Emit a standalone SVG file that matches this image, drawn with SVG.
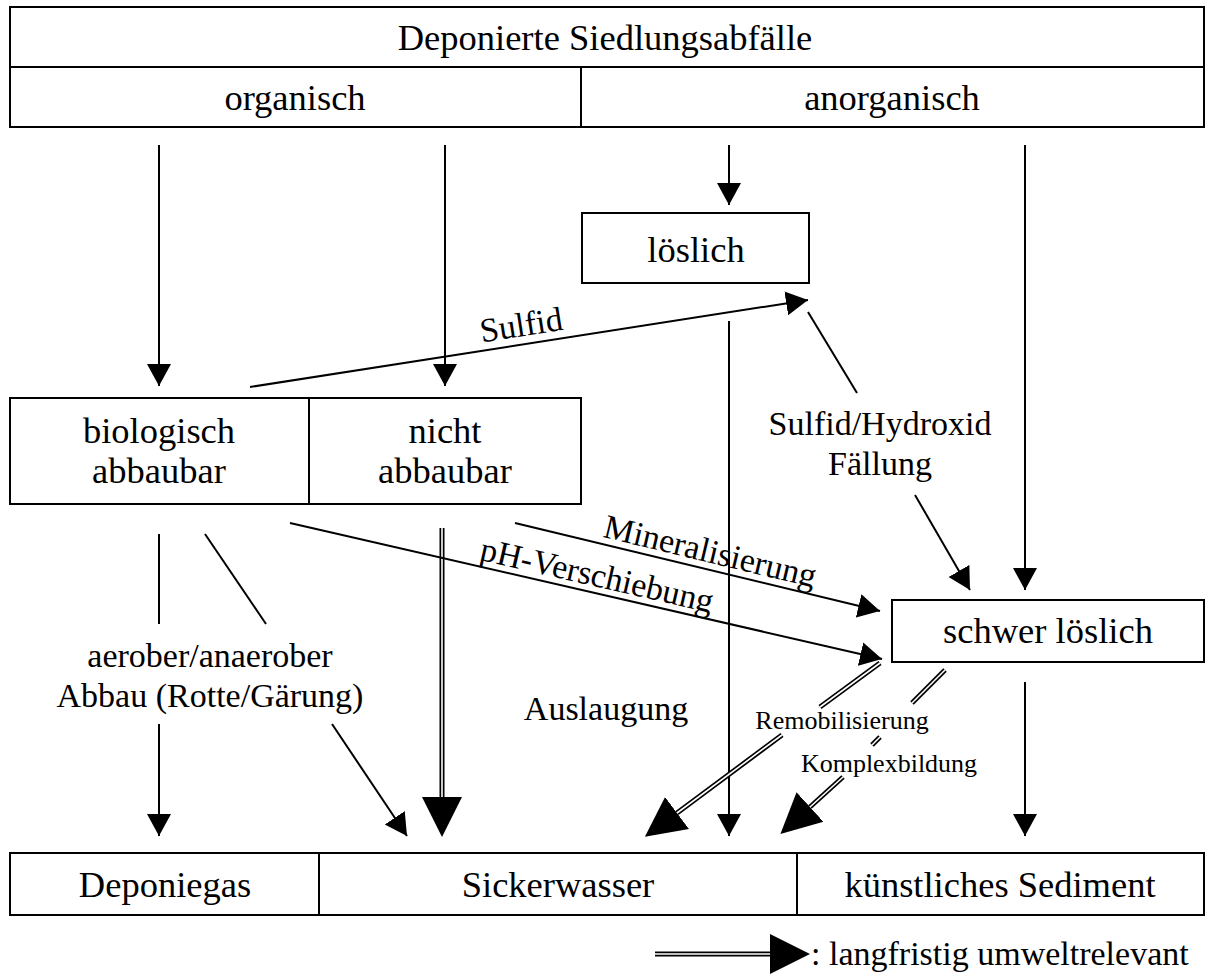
<svg xmlns="http://www.w3.org/2000/svg" width="1208" height="977" viewBox="0 0 1208 977">
<defs>
<style>
text{font-family:"Liberation Serif","Times New Roman",serif;fill:#000}
.bt{font-size:36.5px;text-anchor:middle}
.lb{font-size:34px;text-anchor:middle}
.sm{font-size:26px;text-anchor:middle}
.box{fill:#fff;stroke:#000;stroke-width:2}
.ln{fill:none;stroke:#000;stroke-width:2}
.dbo{fill:none;stroke:#000;stroke-width:5}
.dbi{fill:none;stroke:#fff;stroke-width:1.6}
</style>
<marker id="a" markerUnits="userSpaceOnUse" markerWidth="24" markerHeight="26" refX="22" refY="12" orient="auto" viewBox="0 0 24 24">
<path d="M0,0 L22,12 L0,24 Z" fill="#000"/>
</marker>
<marker id="b" markerUnits="userSpaceOnUse" markerWidth="42" markerHeight="42" refX="0" refY="20" orient="auto" viewBox="0 0 42 40">
<path d="M0,0 L40,20 L0,40 Z" fill="#000"/>
</marker>
</defs>

<g id="top">
<rect class="box" x="10" y="7" width="1194" height="120"/>
<line class="ln" x1="10" y1="67" x2="1204" y2="67"/>
<line class="ln" x1="581" y1="67" x2="581" y2="127"/>
<text class="bt" x="605" y="50">Deponierte Siedlungsabfälle</text>
<text class="bt" x="295" y="110">organisch</text>
<text class="bt" x="892" y="110">anorganisch</text>
</g>

<g id="loeslich">
<rect class="box" x="582" y="213" width="227" height="70"/>
<text class="bt" x="696" y="262">löslich</text>
</g>

<g id="abbaubar">
<rect class="box" x="10" y="398" width="571" height="106"/>
<line class="ln" x1="309" y1="398" x2="309" y2="504"/>
<text class="bt" x="159" y="443">biologisch</text>
<text class="bt" x="159" y="483">abbaubar</text>
<text class="bt" x="445" y="443">nicht</text>
<text class="bt" x="445" y="483">abbaubar</text>
</g>

<g id="schwer">
<rect class="box" x="892" y="600" width="312" height="62"/>
<text class="bt" x="1048" y="643">schwer löslich</text>
</g>

<g id="bottom">
<rect class="box" x="10" y="853" width="1194" height="62"/>
<line class="ln" x1="319" y1="853" x2="319" y2="915"/>
<line class="ln" x1="797" y1="853" x2="797" y2="915"/>
<text class="bt" x="165" y="897">Deponiegas</text>
<text class="bt" x="558" y="897">Sickerwasser</text>
<text class="bt" x="1000" y="897">künstliches Sediment</text>
</g>

<g id="connectors">
<line class="ln" x1="159" y1="145" x2="159" y2="386" marker-end="url(#a)"/>
<line class="ln" x1="445" y1="145" x2="445" y2="386" marker-end="url(#a)"/>
<line class="ln" x1="729" y1="145" x2="729" y2="205" marker-end="url(#a)"/>
<line class="ln" x1="1025" y1="145" x2="1025" y2="590" marker-end="url(#a)"/>

<line class="ln" x1="250" y1="387" x2="808" y2="300" marker-end="url(#a)"/>
<text class="lb" transform="translate(524,343) rotate(-8.9)" y="-7">Sulfid</text>

<line class="ln" x1="729" y1="321" x2="729" y2="836" marker-end="url(#a)"/>

<line class="ln" x1="808" y1="312" x2="857" y2="393"/>
<text class="lb" x="880" y="435">Sulfid/Hydroxid</text>
<text class="lb" x="880" y="475">Fällung</text>
<line class="ln" x1="915" y1="495" x2="970" y2="590" marker-end="url(#a)"/>

<line class="ln" x1="159" y1="534" x2="159" y2="624"/>
<line class="ln" x1="205" y1="534" x2="266" y2="624"/>
<text class="lb" x="210" y="667">aerober/anaerober</text>
<text class="lb" x="210" y="707">Abbau (Rotte/Gärung)</text>
<line class="ln" x1="159" y1="724" x2="159" y2="836" marker-end="url(#a)"/>
<line class="ln" x1="332" y1="724" x2="407" y2="836" marker-end="url(#a)"/>

<line class="dbo" x1="442" y1="528" x2="442" y2="797" marker-end="url(#b)"/>
<line class="dbi" x1="442" y1="528" x2="442" y2="797"/>

<line class="ln" x1="515" y1="523" x2="880" y2="611" marker-end="url(#a)"/>
<text class="lb" transform="translate(706,569) rotate(13.5)" y="-7">Mineralisierung</text>
<line class="ln" x1="290" y1="523" x2="882" y2="659" marker-end="url(#a)"/>
<text class="lb" transform="translate(593,593) rotate(12.9)" y="-7">pH-Verschiebung</text>

<text class="lb" x="606" y="720">Auslaugung</text>

<line class="ln" x1="1025" y1="682" x2="1025" y2="836" marker-end="url(#a)"/>

<line class="dbo" x1="880" y1="663" x2="820" y2="707"/>
<line class="dbi" x1="880" y1="663" x2="820" y2="707"/>
<line class="dbo" x1="782" y1="735" x2="677" y2="813" marker-end="url(#b)"/>
<line class="dbi" x1="782" y1="735" x2="677" y2="813"/>

<line class="dbo" x1="945" y1="670" x2="912" y2="703"/>
<line class="dbi" x1="945" y1="670" x2="912" y2="703"/>
<line class="dbo" x1="880" y1="737" x2="872" y2="745"/>
<line class="dbi" x1="880" y1="737" x2="872" y2="745"/>
<line class="dbo" x1="843" y1="777" x2="810" y2="807" marker-end="url(#b)"/>
<line class="dbi" x1="843" y1="777" x2="810" y2="807"/>

<text class="sm" x="842" y="729">Remobilisierung</text>
<text class="sm" x="889" y="772">Komplexbildung</text>
</g>

<g id="legend">
<line class="dbo" x1="655" y1="954" x2="770" y2="954" marker-end="url(#b)"/>
<line class="dbi" x1="655" y1="954" x2="770" y2="954"/>
<text x="811" y="965" style="font-size:34px">: langfristig umweltrelevant</text>
</g>
</svg>
